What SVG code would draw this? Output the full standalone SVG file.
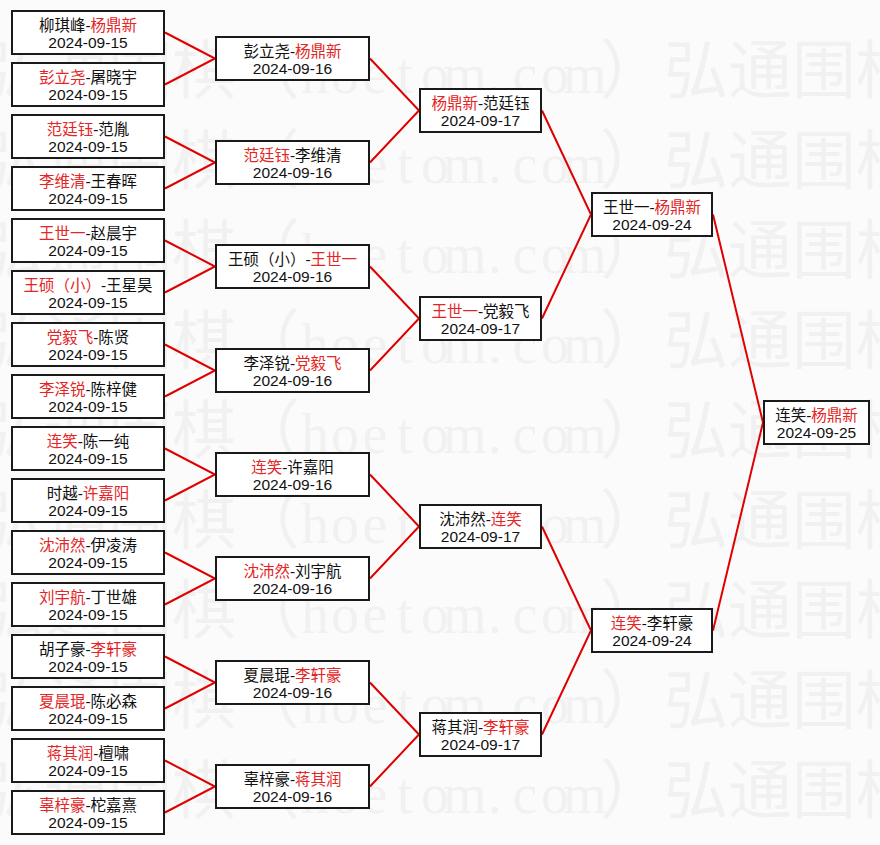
<svg xmlns="http://www.w3.org/2000/svg" width="880" height="845" viewBox="0 0 880 845">
<style>
.bg{fill:#fbfbfb}
.wm{font-family:"Noto Sans CJK SC",sans-serif;font-size:64px;fill:#f1f1f1}
.wl{font-family:"Liberation Serif",serif;font-size:56px}
.bx{fill:#fff;stroke:#1a1a1a;stroke-width:2}
.nm{font-family:"Liberation Sans","Noto Sans CJK SC",sans-serif;font-size:15.5px;text-anchor:middle;fill:#111}
.dt{font-family:"Liberation Sans",sans-serif;font-size:15.5px;text-anchor:middle;fill:#111}
.w{fill:#e42525}
.cn{fill:none;stroke:#e00000;stroke-width:2}
</style>
<defs>
<text id="wmrow"><tspan x="-20">弘通围棋（</tspan><tspan class="wl" x="301 331 362.5 397 421 443 488 512.5 541 563">hoetom.com</tspan><tspan x="600">）弘通围棋</tspan></text>
</defs>
<rect class="bg" x="0" y="0" width="880" height="845"/>
<g id="watermark" class="wm">
<use href="#wmrow" y="93"/>
<use href="#wmrow" y="183"/>
<use href="#wmrow" y="273"/>
<use href="#wmrow" y="363"/>
<use href="#wmrow" y="453"/>
<use href="#wmrow" y="543"/>
<use href="#wmrow" y="633"/>
<use href="#wmrow" y="723"/>
<use href="#wmrow" y="813"/>
</g>
<g id="connectors" class="cn">
<path d="M165 32.5L215 58.5L165 84.5"/>
<path d="M165 136.5L215 162.5L165 188.5"/>
<path d="M165 240.5L215 266.5L165 292.5"/>
<path d="M165 344.5L215 370.5L165 396.5"/>
<path d="M165 448.5L215 474.5L165 500.5"/>
<path d="M165 552.5L215 578.5L165 604.5"/>
<path d="M165 656.5L215 682.5L165 708.5"/>
<path d="M165 760.5L215 786.5L165 812.5"/>
<path d="M370 58.5L419 110.5L370 162.5"/>
<path d="M370 266.5L419 318.5L370 370.5"/>
<path d="M370 474.5L419 526.5L370 578.5"/>
<path d="M370 682.5L419 734.5L370 786.5"/>
<path d="M542 110.5L591 214.5L542 318.5"/>
<path d="M542 526.5L591 630.5L542 734.5"/>
<path d="M713 214.5L763 422.5L713 630.5"/>
</g>
<g id="r1-1"><rect class="bx" x="12" y="11" width="152" height="43"/><text class="nm" x="88" y="30.5">柳琪峰-<tspan class="w">杨鼎新</tspan></text><text class="dt" x="88" y="48.3">2024-09-15</text></g>
<g id="r1-2"><rect class="bx" x="12" y="63" width="152" height="43"/><text class="nm" x="88" y="82.5"><tspan class="w">彭立尧</tspan>-屠晓宇</text><text class="dt" x="88" y="100.3">2024-09-15</text></g>
<g id="r1-3"><rect class="bx" x="12" y="115" width="152" height="43"/><text class="nm" x="88" y="134.5"><tspan class="w">范廷钰</tspan>-范胤</text><text class="dt" x="88" y="152.3">2024-09-15</text></g>
<g id="r1-4"><rect class="bx" x="12" y="167" width="152" height="43"/><text class="nm" x="88" y="186.5"><tspan class="w">李维清</tspan>-王春晖</text><text class="dt" x="88" y="204.3">2024-09-15</text></g>
<g id="r1-5"><rect class="bx" x="12" y="219" width="152" height="43"/><text class="nm" x="88" y="238.5"><tspan class="w">王世一</tspan>-赵晨宇</text><text class="dt" x="88" y="256.3">2024-09-15</text></g>
<g id="r1-6"><rect class="bx" x="12" y="271" width="152" height="43"/><text class="nm" x="88" y="290.5"><tspan class="w">王硕（小）</tspan>-王星昊</text><text class="dt" x="88" y="308.3">2024-09-15</text></g>
<g id="r1-7"><rect class="bx" x="12" y="323" width="152" height="43"/><text class="nm" x="88" y="342.5"><tspan class="w">党毅飞</tspan>-陈贤</text><text class="dt" x="88" y="360.3">2024-09-15</text></g>
<g id="r1-8"><rect class="bx" x="12" y="375" width="152" height="43"/><text class="nm" x="88" y="394.5"><tspan class="w">李泽锐</tspan>-陈梓健</text><text class="dt" x="88" y="412.3">2024-09-15</text></g>
<g id="r1-9"><rect class="bx" x="12" y="427" width="152" height="43"/><text class="nm" x="88" y="446.5"><tspan class="w">连笑</tspan>-陈一纯</text><text class="dt" x="88" y="464.3">2024-09-15</text></g>
<g id="r1-10"><rect class="bx" x="12" y="479" width="152" height="43"/><text class="nm" x="88" y="498.5">时越-<tspan class="w">许嘉阳</tspan></text><text class="dt" x="88" y="516.3">2024-09-15</text></g>
<g id="r1-11"><rect class="bx" x="12" y="531" width="152" height="43"/><text class="nm" x="88" y="550.5"><tspan class="w">沈沛然</tspan>-伊凌涛</text><text class="dt" x="88" y="568.3">2024-09-15</text></g>
<g id="r1-12"><rect class="bx" x="12" y="583" width="152" height="43"/><text class="nm" x="88" y="602.5"><tspan class="w">刘宇航</tspan>-丁世雄</text><text class="dt" x="88" y="620.3">2024-09-15</text></g>
<g id="r1-13"><rect class="bx" x="12" y="635" width="152" height="43"/><text class="nm" x="88" y="654.5">胡子豪-<tspan class="w">李轩豪</tspan></text><text class="dt" x="88" y="672.3">2024-09-15</text></g>
<g id="r1-14"><rect class="bx" x="12" y="687" width="152" height="43"/><text class="nm" x="88" y="706.5"><tspan class="w">夏晨琨</tspan>-陈必森</text><text class="dt" x="88" y="724.3">2024-09-15</text></g>
<g id="r1-15"><rect class="bx" x="12" y="739" width="152" height="43"/><text class="nm" x="88" y="758.5"><tspan class="w">蒋其润</tspan>-檀啸</text><text class="dt" x="88" y="776.3">2024-09-15</text></g>
<g id="r1-16"><rect class="bx" x="12" y="791" width="152" height="43"/><text class="nm" x="88" y="810.5"><tspan class="w">辜梓豪</tspan>-柁嘉熹</text><text class="dt" x="88" y="828.3">2024-09-15</text></g>
<g id="r2-1"><rect class="bx" x="216" y="37" width="153" height="43"/><text class="nm" x="292.5" y="56.5">彭立尧-<tspan class="w">杨鼎新</tspan></text><text class="dt" x="292.5" y="74.3">2024-09-16</text></g>
<g id="r2-2"><rect class="bx" x="216" y="141" width="153" height="43"/><text class="nm" x="292.5" y="160.5"><tspan class="w">范廷钰</tspan>-李维清</text><text class="dt" x="292.5" y="178.3">2024-09-16</text></g>
<g id="r2-3"><rect class="bx" x="216" y="245" width="153" height="43"/><text class="nm" x="292.5" y="264.5">王硕（小）-<tspan class="w">王世一</tspan></text><text class="dt" x="292.5" y="282.3">2024-09-16</text></g>
<g id="r2-4"><rect class="bx" x="216" y="349" width="153" height="43"/><text class="nm" x="292.5" y="368.5">李泽锐-<tspan class="w">党毅飞</tspan></text><text class="dt" x="292.5" y="386.3">2024-09-16</text></g>
<g id="r2-5"><rect class="bx" x="216" y="453" width="153" height="43"/><text class="nm" x="292.5" y="472.5"><tspan class="w">连笑</tspan>-许嘉阳</text><text class="dt" x="292.5" y="490.3">2024-09-16</text></g>
<g id="r2-6"><rect class="bx" x="216" y="557" width="153" height="43"/><text class="nm" x="292.5" y="576.5"><tspan class="w">沈沛然</tspan>-刘宇航</text><text class="dt" x="292.5" y="594.3">2024-09-16</text></g>
<g id="r2-7"><rect class="bx" x="216" y="661" width="153" height="43"/><text class="nm" x="292.5" y="680.5">夏晨琨-<tspan class="w">李轩豪</tspan></text><text class="dt" x="292.5" y="698.3">2024-09-16</text></g>
<g id="r2-8"><rect class="bx" x="216" y="765" width="153" height="43"/><text class="nm" x="292.5" y="784.5">辜梓豪-<tspan class="w">蒋其润</tspan></text><text class="dt" x="292.5" y="802.3">2024-09-16</text></g>
<g id="r3-1"><rect class="bx" x="420" y="89" width="121" height="43"/><text class="nm" x="480.5" y="108.5"><tspan class="w">杨鼎新</tspan>-范廷钰</text><text class="dt" x="480.5" y="126.3">2024-09-17</text></g>
<g id="r3-2"><rect class="bx" x="420" y="297" width="121" height="43"/><text class="nm" x="480.5" y="316.5"><tspan class="w">王世一</tspan>-党毅飞</text><text class="dt" x="480.5" y="334.3">2024-09-17</text></g>
<g id="r3-3"><rect class="bx" x="420" y="505" width="121" height="43"/><text class="nm" x="480.5" y="524.5">沈沛然-<tspan class="w">连笑</tspan></text><text class="dt" x="480.5" y="542.3">2024-09-17</text></g>
<g id="r3-4"><rect class="bx" x="420" y="713" width="121" height="43"/><text class="nm" x="480.5" y="732.5">蒋其润-<tspan class="w">李轩豪</tspan></text><text class="dt" x="480.5" y="750.3">2024-09-17</text></g>
<g id="r4-1"><rect class="bx" x="592" y="193" width="120" height="43"/><text class="nm" x="652" y="212.5">王世一-<tspan class="w">杨鼎新</tspan></text><text class="dt" x="652" y="230.3">2024-09-24</text></g>
<g id="r4-2"><rect class="bx" x="592" y="609" width="120" height="43"/><text class="nm" x="652" y="628.5"><tspan class="w">连笑</tspan>-李轩豪</text><text class="dt" x="652" y="646.3">2024-09-24</text></g>
<g id="final"><rect class="bx" x="764" y="401" width="105" height="43"/><text class="nm" x="816.5" y="420.5">连笑-<tspan class="w">杨鼎新</tspan></text><text class="dt" x="816.5" y="438.3">2024-09-25</text></g>
</svg>
